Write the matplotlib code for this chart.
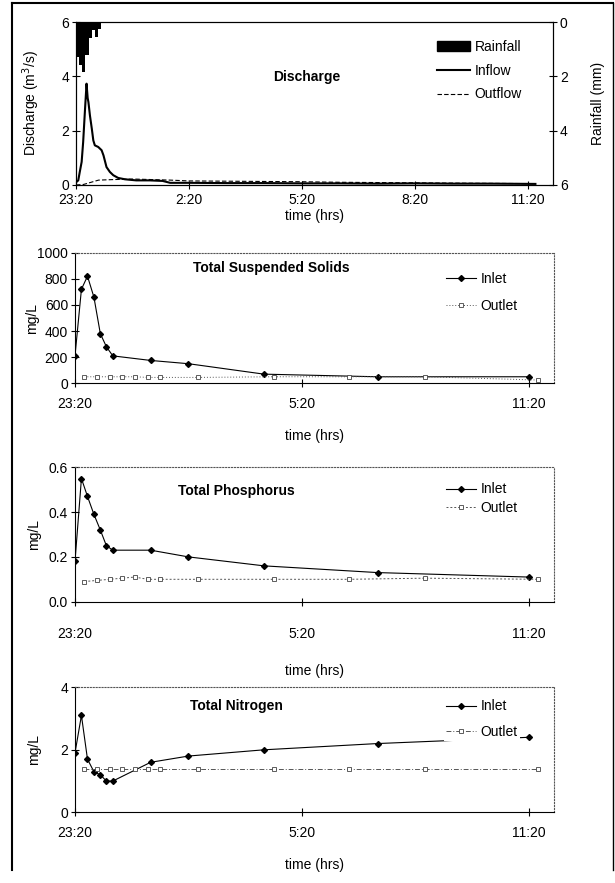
import numpy as np
import matplotlib
matplotlib.use("Agg")
import matplotlib.pyplot as plt
from matplotlib.lines import Line2D
from matplotlib.patches import Patch

plt.rcParams['font.family'] = ['Liberation Sans', 'DejaVu Sans']
plt.rcParams['font.size'] = 10

# time axis: hours after 23:20
tick_hours_top = [0, 3, 6, 9, 12]
tick_labels_top = ['23:20', '2:20', '5:20', '8:20', '11:20']
tick_hours = [0, 6, 12]
tick_labels = ['23:20', '5:20', '11:20']
x_end = 12.667  # 12:00

# rainfall, 5 minute totals (mm)
rain_t = [0, 0.083, 0.167, 0.25, 0.333, 0.417, 0.5, 0.583]
rain_mm = [1.3, 1.6, 1.85, 1.2, 0.6, 0.3, 0.55, 0.25]

# discharge (m3/s)
inflow_t = [0, 0.06, 0.1, 0.15, 0.19, 0.24, 0.28, 0.31, 0.33, 0.37, 0.42, 0.46,
            0.5, 0.59, 0.68, 0.73, 0.81, 0.9, 0.99, 1.12, 1.3, 1.6, 1.96, 2.3,
            2.5, 3.0, 4.0, 5.0, 6.0, 7.0, 8.0, 9.0, 10.0, 11.0, 12.2]
inflow_q = [0.1, 0.17, 0.48, 0.85, 1.58, 2.8, 3.73, 3.2, 3.05, 2.56, 2.07, 1.64,
            1.46, 1.4, 1.28, 1.09, 0.66, 0.48, 0.36, 0.26, 0.21, 0.17, 0.17, 0.15,
            0.08, 0.08, 0.07, 0.07, 0.06, 0.06, 0.05, 0.06, 0.05, 0.05, 0.04]
outflow_t = [0, 0.2, 0.4, 0.6, 1.0, 1.5, 2.0, 2.5, 3.0, 4.0, 5.0, 6.0, 7.0,
             8.0, 9.0, 10.0, 11.0, 12.2]
outflow_q = [0, 0.02, 0.1, 0.18, 0.2, 0.22, 0.2, 0.18, 0.15, 0.14, 0.13, 0.12,
             0.1, 0.09, 0.08, 0.07, 0.06, 0.05]

# water quality samples
inlet_t = [0, 0.17, 0.33, 0.5, 0.67, 0.83, 1.0, 2.0, 3.0, 5.0, 8.0, 12.0]
outlet_t = [0.25, 0.58, 0.92, 1.25, 1.58, 1.92, 2.25, 3.25, 5.25, 7.25, 9.25, 12.25]

tss_in = [210, 720, 820, 660, 380, 280, 210, 175, 150, 70, 50, 50]
tss_out = [50, 50, 50, 50, 50, 45, 45, 45, 50, 50, 50, 25]

tp_in = [0.18, 0.55, 0.47, 0.39, 0.32, 0.25, 0.23, 0.23, 0.20, 0.16, 0.13, 0.11]
tp_out = [0.09, 0.095, 0.10, 0.105, 0.11, 0.10, 0.10, 0.10, 0.10, 0.10, 0.105, 0.10]

tn_in = [1.9, 3.1, 1.7, 1.3, 1.2, 1.0, 1.0, 1.6, 1.8, 2.0, 2.2, 2.4]
tn_out = [1.4, 1.4, 1.4, 1.4, 1.4, 1.4, 1.4, 1.4, 1.4, 1.4, 1.4, 1.4]

fig = plt.figure(figsize=(6.15, 8.83), dpi=100)

# page frame
fig.add_artist(Line2D([12/615, 12/615], [1 - 3/883, 1 - 870/883], color='black', lw=1.5))
fig.add_artist(Line2D([12/615, 613/615], [1 - 3/883, 1 - 3/883], color='black', lw=1.5))
fig.add_artist(Line2D([613/615, 613/615], [1 - 3/883, 1 - 870/883], color='black', lw=1.0))


def style_time_axis(ax, ticks, labels, pad, labelpad):
    ax.set_xlim(0, x_end)
    ax.set_xticks(ticks)
    ax.set_xticklabels(labels)
    ax.tick_params(axis='x', direction='inout', length=6, width=0.8, pad=pad)
    ax.tick_params(axis='y', direction='inout', length=6, width=0.8, pad=2)
    ax.set_xlabel('time (hrs)', labelpad=labelpad)


def white_legend(ax, handles, labels, anchor, spacing, hlen):
    leg = ax.legend(handles, labels, loc='upper left', bbox_to_anchor=anchor,
                    frameon=True, fancybox=False, borderpad=0.15,
                    borderaxespad=0, handlelength=hlen, handletextpad=0.3,
                    labelspacing=spacing)
    leg.get_frame().set_facecolor('white')
    leg.get_frame().set_edgecolor('none')
    leg.get_frame().set_alpha(1)
    leg.set_zorder(5)
    return leg


# ---- Discharge ----
ax1 = fig.add_axes([76/615, 1 - 185/883, 477/615, 163/883])
ax1.plot(inflow_t, inflow_q, color='black', lw=1.5)
ax1.plot(outflow_t, outflow_q, color='black', lw=0.8, ls=(0, (4, 2)))
ax1.set_ylim(0, 6)
ax1.set_yticks([0, 2, 4, 6])
style_time_axis(ax1, tick_hours_top, tick_labels_top, 3, 1)
ax1.set_ylabel('Discharge (m$^3$/s)')
ax1.yaxis.set_label_coords(-0.071, 0.5)
ax1.text(0.484, 0.66, 'Discharge', transform=ax1.transAxes, ha='center',
         va='center', fontweight='bold')

ax1r = ax1.twinx()
ax1r.bar(rain_t, rain_mm, width=0.083, align='edge', color='black')
ax1r.set_ylim(6, 0)
ax1r.set_yticks([0, 2, 4, 6])
ax1r.tick_params(axis='y', direction='inout', length=6, width=0.8, pad=2)
ax1r.set_ylabel('Rainfall (mm)')
ax1r.yaxis.set_label_coords(1.080, 0.5)

handles = [Patch(color='black'),
           Line2D([], [], color='black', lw=1.5),
           Line2D([], [], color='black', lw=0.8, ls=(0, (4, 2)))]
ax1r.legend(handles, ['Rainfall', 'Inflow', 'Outflow'], loc='upper left',
            bbox_to_anchor=(0.757, 0.89), frameon=False, borderpad=0,
            borderaxespad=0, handlelength=2.4, handletextpad=0.3,
            labelspacing=0.7)


def quality_panel(rect, t_in, v_in, t_out, v_out, ylim, yticks, title, tx, ty,
                  out_ls, leg_y, leg_sp, pad, labelpad, ylab_x):
    ax = fig.add_axes(rect)
    ax.plot(t_in, v_in, color='black', lw=0.8, marker='D', ms=3,
            mfc='black', mec='black')
    ax.plot(t_out, v_out, color='#555555', lw=0.7, ls=out_ls, marker='s', ms=3.5,
            mfc='white', mec='#444444', mew=0.6)
    ax.set_ylim(*ylim)
    ax.set_yticks(yticks)
    style_time_axis(ax, tick_hours, tick_labels, pad, labelpad)
    ax.set_ylabel('mg/L')
    ax.yaxis.set_label_coords(ylab_x, 0.5)
    for s in ['top', 'right']:
        ax.spines[s].set_linestyle(':')
        ax.spines[s].set_color('#555555')
    ax.text(tx, ty, title, transform=ax.transAxes, ha='center', va='center',
            fontweight='bold')
    hs = [Line2D([], [], color='black', lw=0.8, marker='D', ms=3, mfc='black'),
          Line2D([], [], color='#555555', lw=0.7, ls=out_ls, marker='s', ms=3.5,
                 mfc='white', mec='#444444', mew=0.6)]
    white_legend(ax, hs, ['Inlet', 'Outlet'], (0.77, leg_y), leg_sp, 2.2)
    return ax


quality_panel([75/615, 1 - 383.3/883, 479/615, 130.6/883], inlet_t, tss_in,
              outlet_t, tss_out, (0, 1000), [0, 200, 400, 600, 800, 1000],
              'Total Suspended Solids', 0.41, 0.88, (0, (1, 2)), 0.866, 0.9,
              7, 13, -0.075)
quality_panel([75/615, 1 - 601.7/883, 479/615, 134.4/883], inlet_t, tp_in,
              outlet_t, tp_out, (0, 0.6), [0, 0.2, 0.4, 0.6],
              'Total Phosphorus', 0.336, 0.82, (0, (2, 2)), 0.903, 0.35,
              15, 17, -0.071)
quality_panel([75/615, 1 - 812.3/883, 479/615, 125/883], inlet_t, tn_in,
              outlet_t, tn_out, (0, 4), [0, 2, 4],
              'Total Nitrogen', 0.338, 0.85, (0, (5, 2, 1, 2)), 0.92, 0.85,
              7, 13, -0.071)

fig.savefig('out.png', dpi=100)
